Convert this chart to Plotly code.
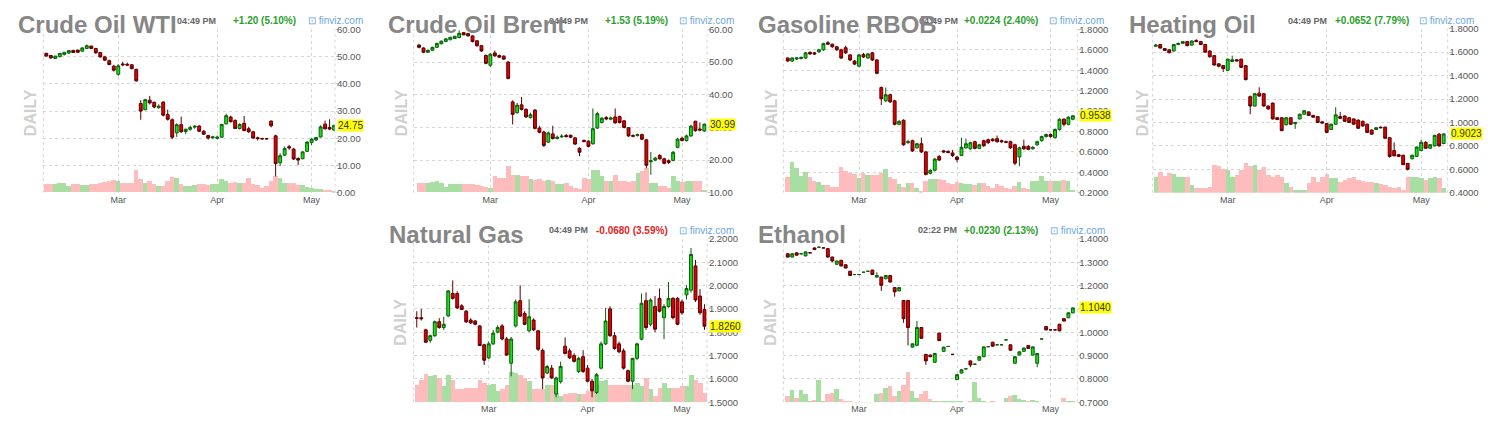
import plotly.graph_objects as go
import pandas as pd

W, H = 1488, 427
FONT = "Liberation Sans, Arial, sans-serif"

# ---------------- trading days (x categories) ----------------
trade_dates = [d for d in pd.bdate_range("2020-02-07", "2020-05-08") if d != pd.Timestamp("2020-04-10")]
x_idx = list(range(len(trade_dates)))
month_ticks, month_labels = [], []
for i, d in enumerate(trade_dates):
    if i > 0 and d.month != trade_dates[i - 1].month:
        month_ticks.append(i)
        month_labels.append(d.strftime("%b"))

# ---------------- Crude Oil WTI ----------------
wti_open = [51.2,50.4,49.3,50.0,50.8,51.3,52.3,52.4,52.0,53.0, 53.9,53.0,51.5,49.9,48.5,46.5,43.5,47.3,47.2,47.0,
            45.3,32.8,30.5,34.0,33.2,31.3,33.3,28.7,26.8,22.0, 25.0,22.5,23.3,24.1,24.5,22.6,21.0,20.2,20.0,20.4,
            25.3,27.8,26.5,23.6,25.5,23.5,22.4,20.2,19.9,19.9, 26.3,20.9,11.0,13.8,16.9,16.0,12.6,12.5,15.2,18.5,
            19.4,20.5,25.2,24.0,23.0]
wti_high = [51.4,50.6,50.2,51.3,51.6,52.2,52.4,52.5,53.4,54.5, 53.9,53.2,51.7,50.3,48.9,47.0,47.2,48.1,47.8,47.3,
            45.6,34.0,34.5,35.6,33.5,32.5,33.6,30.5,27.3,25.5, 28.0,23.6,24.6,24.9,24.8,23.0,21.3,20.9,21.0,25.3,
            29.0,28.3,27.0,25.5,28.2,24.2,22.6,20.6,20.2,20.1, 26.6,21.3,14.5,17.0,17.6,16.5,13.0,15.3,19.0,20.0,
            20.5,24.8,26.5,27.0,25.0]
wti_low = [50.0,49.3,49.3,49.7,50.4,51.0,51.4,51.5,51.8,53.0, 52.9,51.0,49.6,48.5,46.8,44.5,43.0,46.5,46.6,45.3,
           40.8,26.8,30.3,32.4,31.0,30.8,28.0,26.5,19.7,20.5, 22.0,21.5,22.8,23.5,22.3,21.2,19.5,19.8,19.6,20.2,
           25.1,25.8,23.4,23.2,22.7,22.0,19.8,19.2,19.5,19.6, 24.0,6.0,9.8,13.5,15.8,12.0,10.2,12.3,15.0,17.5,
           19.0,20.3,23.2,23.0,22.6]
wti_close = [50.2,49.5,50.2,51.2,51.6,52.2,51.5,51.6,53.2,54.0, 53.0,51.4,49.9,48.7,47.1,45.0,46.6,47.0,46.9,45.6,
             41.1,30.0,34.2,33.0,31.5,31.8,28.5,27.0,20.4,25.0, 22.4,23.3,24.0,24.4,22.6,21.5,20.1,20.5,20.4,25.1,
             28.3,26.1,23.6,25.1,22.8,22.4,20.1,19.9,19.8,19.8, 24.6,10.7,13.6,16.2,16.5,12.4,12.0,15.0,18.6,19.7,
             20.3,24.2,23.5,23.4,24.75]
wti_vol = [27,27,27,30,30,20,25,27,22,22, 25,25,28,32,35,38,35,30,30,28, 70,40,30,35,25,20,20,35,47,45,
           25,20,20,22,25,25,22,25,25,40, 35,30,32,30,30,45,25,22,15,20, 35,50,45,30,28,30,22,22,18,15,
           10,10,8,8,3]
wti_ticks = [0, 10, 20, 30, 40, 50, 60]

# ---------------- Crude Oil Brent ----------------
brent_open = [55.2,54.3,53.0,53.6,54.5,55.6,56.3,56.8,57.2,57.5, 59.0,58.7,58.0,56.5,55.0,52.0,49.0,52.8,52.0,51.8,
              50.0,37.8,34.5,36.9,35.5,33.0,35.3,29.8,28.6,25.5, 28.0,26.6,27.1,27.5,27.6,26.8,23.6,26.0,25.8,25.0,
              29.8,31.5,33.0,32.5,33.2,33.3,32.0,29.9,27.5,27.5, 27.8,26.2,19.5,20.0,21.4,20.4,19.8,19.9,23.9,26.7,
              26.0,27.4,31.9,29.5,28.9]
brent_high = [55.5,54.5,53.8,54.7,55.9,56.6,57.2,57.6,57.9,59.7, 59.2,58.9,58.2,56.7,55.2,52.3,52.8,53.5,52.3,52.1,
              50.3,38.3,37.5,39.3,35.9,34.5,35.6,30.5,29.0,28.8, 30.5,27.5,27.9,28.0,27.8,27.0,23.9,26.3,26.0,35.8,
              34.8,33.2,33.5,33.3,35.8,33.6,32.3,30.1,27.9,28.1, 28.1,26.5,22.5,21.0,21.8,20.7,20.2,22.8,26.8,27.2,
              27.8,30.8,32.0,31.5,31.2]
brent_low = [54.2,52.7,52.8,53.4,54.3,55.4,56.2,56.8,57.1,57.3, 58.3,57.9,56.0,54.7,53.1,49.3,48.5,51.6,51.2,50.6,
             44.7,30.9,34.2,35.2,32.9,32.7,29.4,28.2,24.0,25.2, 26.3,26.3,26.8,26.9,26.7,24.6,21.2,25.4,23.9,24.7,
             29.5,31.2,32.2,32.2,31.1,31.2,29.7,27.1,27.0,27.2, 26.1,17.5,15.5,19.7,20.1,18.7,18.8,19.6,23.6,25.7,
             25.7,27.1,28.7,28.8,28.6]
brent_close = [54.5,53.0,53.6,54.5,55.7,56.4,57.1,57.6,57.9,58.8, 58.3,58.0,56.3,55.0,53.4,49.6,52.4,51.9,51.5,50.9,
               45.0,34.0,36.8,35.5,33.2,33.9,29.7,28.5,24.5,28.3, 26.6,27.0,27.3,27.2,27.0,24.9,22.4,25.7,24.2,29.6,
               34.2,32.8,32.6,32.9,31.4,31.5,30.0,27.4,27.3,27.8, 26.4,18.4,19.8,20.6,20.4,19.0,19.3,22.4,26.4,26.0,
               27.4,30.4,29.0,29.2,30.99]
brent_vol = [30,30,30,32,35,30,18,25,25,25, 25,25,25,22,20,18,15,50,45,45, 80,55,55,50,50,40,38,40,35,38,
             35,25,25,28,20,15,10,45,42,70, 68,50,35,35,55,35,35,33,35,60, 65,75,30,30,20,20,15,50,35,32,
             35,35,35,35,8]
brent_ticks = [10, 20, 30, 40, 50, 60]

# ---------------- Gasoline RBOB ----------------
gas_open = [1.52,1.49,1.51,1.515,1.52,1.575,1.57,1.58,1.60,1.67, 1.655,1.63,1.60,1.62,1.55,1.49,1.44,1.555,1.52,1.57,
            1.50,1.23,1.10,1.16,1.10,0.87,0.91,0.69,0.71,0.64, 0.68,0.60,0.39,0.42,0.555,0.61,0.605,0.59,0.55,0.565,
            0.64,0.63,0.70,0.635,0.71,0.72,0.725,0.73,0.71,0.70, 0.70,0.67,0.55,0.655,0.655,0.63,0.67,0.71,0.75,0.77,
            0.74,0.82,0.92,0.87,0.92]
gas_high = [1.525,1.525,1.53,1.535,1.58,1.585,1.58,1.61,1.67,1.685, 1.66,1.635,1.61,1.64,1.56,1.50,1.56,1.57,1.57,1.58,
            1.51,1.24,1.23,1.17,1.11,0.91,0.92,0.72,0.72,0.69, 0.74,0.61,0.43,0.54,0.57,0.62,0.615,0.62,0.56,0.74,
            0.73,0.70,0.71,0.68,0.72,0.73,0.735,0.76,0.72,0.71, 0.71,0.68,0.65,0.72,0.665,0.655,0.71,0.76,0.78,0.78,
            0.83,0.93,0.93,0.95,0.96]
gas_low = [1.48,1.48,1.50,1.505,1.51,1.55,1.55,1.57,1.59,1.65, 1.62,1.59,1.51,1.56,1.49,1.45,1.43,1.52,1.51,1.49,
           1.36,1.06,1.09,1.08,0.86,0.86,0.66,0.68,0.60,0.63, 0.59,0.37,0.38,0.41,0.51,0.59,0.585,0.55,0.50,0.56,
           0.63,0.62,0.625,0.63,0.65,0.68,0.70,0.69,0.69,0.685, 0.63,0.47,0.46,0.62,0.615,0.625,0.66,0.70,0.74,0.74,
           0.73,0.81,0.85,0.86,0.91]
gas_close = [1.49,1.52,1.52,1.525,1.57,1.56,1.56,1.60,1.66,1.655, 1.63,1.60,1.52,1.57,1.50,1.46,1.55,1.53,1.56,1.50,
             1.37,1.12,1.16,1.09,0.87,0.90,0.67,0.70,0.61,0.68, 0.60,0.38,0.42,0.53,0.52,0.60,0.595,0.565,0.525,0.645,
             0.68,0.69,0.635,0.67,0.66,0.69,0.71,0.70,0.70,0.695, 0.64,0.49,0.64,0.63,0.625,0.645,0.70,0.75,0.77,0.75,
             0.82,0.92,0.87,0.94,0.9538]
gas_vol = [47,93,75,50,63,47,35,33,23,23, 17,17,77,65,60,57,45,60,53,53, 53,60,73,47,40,27,17,30,30,15,
           5,35,40,42,40,37,30,27,33,30, 27,27,23,30,30,20,15,27,20,13, 10,20,33,15,10,35,35,50,35,35,
           35,35,38,35,8]
gas_ticks = [0.2, 0.4, 0.6, 0.8, 1.0, 1.2, 1.4, 1.6, 1.8]

# ---------------- Heating Oil ----------------
ho_open = [1.65,1.665,1.63,1.62,1.61,1.665,1.675,1.69,1.66,1.70, 1.69,1.665,1.61,1.57,1.50,1.485,1.445,1.52,1.535,1.54,
           1.485,1.22,1.14,1.25,1.245,1.14,1.165,1.04,1.04,0.98, 1.04,0.99,1.03,1.07,1.09,1.06,1.05,1.005,0.99,0.94,
           0.985,1.05,1.055,1.04,1.03,1.02,1.01,0.985,0.935,0.94, 0.96,0.96,0.87,0.76,0.725,0.72,0.65,0.69,0.71,0.76,
           0.83,0.78,0.80,0.90,0.82]
ho_high = [1.67,1.67,1.635,1.625,1.67,1.68,1.695,1.695,1.70,1.71, 1.695,1.67,1.615,1.575,1.505,1.49,1.545,1.57,1.54,1.545,
           1.49,1.23,1.25,1.30,1.25,1.145,1.17,1.045,1.045,1.045, 1.045,1.005,1.075,1.105,1.095,1.065,1.055,1.01,0.995,0.99,
           1.13,1.09,1.06,1.045,1.035,1.025,1.015,0.99,0.94,0.96, 0.965,0.965,0.875,0.83,0.73,0.725,0.655,0.725,0.795,0.85,
           0.84,0.815,0.895,0.91,0.905]
ho_low = [1.645,1.63,1.61,1.59,1.605,1.66,1.67,1.65,1.655,1.685, 1.66,1.595,1.555,1.485,1.47,1.43,1.44,1.515,1.52,1.465,
          1.36,1.07,1.135,1.22,1.135,1.11,1.025,1.02,0.925,0.975, 0.98,0.945,1.025,1.065,1.055,1.04,0.995,0.99,0.91,0.935,
          0.98,1.03,1.005,0.995,0.98,0.945,0.965,0.91,0.895,0.935, 0.95,0.86,0.70,0.71,0.705,0.635,0.59,0.685,0.705,0.755,
          0.775,0.775,0.795,0.795,0.815]
ho_close = [1.66,1.635,1.615,1.595,1.665,1.675,1.69,1.655,1.695,1.69, 1.665,1.60,1.56,1.49,1.48,1.46,1.54,1.535,1.525,1.47,
            1.365,1.14,1.245,1.225,1.14,1.115,1.03,1.025,0.93,1.04, 0.985,1.00,1.07,1.10,1.06,1.045,1.00,0.995,0.915,0.985,
            1.065,1.035,1.01,1.00,0.985,0.95,0.97,0.915,0.90,0.955, 0.955,0.865,0.71,0.715,0.71,0.64,0.60,0.72,0.79,0.83,
            0.78,0.81,0.89,0.80,0.9023]
ho_vol = [50,65,53,60,57,50,50,50,25,15, 17,17,20,85,83,75,70,50,55,70, 93,83,85,70,80,55,50,55,50,30,
          20,10,10,10,30,50,35,50,57,45, 45,35,40,45,48,40,37,35,35,30, 27,25,20,15,20,10,50,50,50,45,
          40,45,50,45,15]
ho_ticks = [0.4, 0.6, 0.8, 1.0, 1.2, 1.4, 1.6, 1.8]

# ---------------- Natural Gas ----------------
ng_open = [1.862,1.862,1.810,1.765,1.785,1.845,1.820,1.870,1.966,1.966, 1.913,1.890,1.852,1.848,1.827,1.746,1.690,1.750,1.800,1.827,
           1.771,1.667,1.827,1.935,1.880,1.806,1.852,1.806,1.722,1.625, 1.646,1.535,1.588,1.740,1.720,1.700,1.632,1.695,1.646,1.590,
           1.542,1.646,1.750,1.900,1.785,1.750,1.720,1.635,1.590,1.688, 1.770,1.935,1.834,1.910,1.945,1.862,1.910,1.945,1.945,1.930,
           1.960,1.980,2.084,1.955,1.897]
ng_high = [1.890,1.900,1.815,1.790,1.850,1.860,1.866,1.980,2.022,1.975, 1.920,1.895,1.860,1.852,1.830,1.750,1.760,1.810,1.830,1.835,
           1.780,1.780,1.940,2.001,1.890,1.941,1.860,1.810,1.730,1.660, 1.660,1.610,1.674,1.778,1.730,1.710,1.695,1.723,1.660,1.600,
           1.625,1.760,1.904,1.911,1.800,1.760,1.730,1.640,1.690,1.755, 1.966,1.970,1.945,1.955,1.987,1.920,2.015,1.950,1.950,1.940,
           2.001,2.161,2.110,1.985,1.920]
ng_low = [1.820,1.850,1.755,1.755,1.780,1.815,1.810,1.865,1.940,1.900, 1.895,1.840,1.835,1.830,1.740,1.660,1.685,1.745,1.795,1.765,
          1.700,1.611,1.820,1.865,1.830,1.800,1.805,1.720,1.556,1.620, 1.600,1.521,1.580,1.705,1.685,1.670,1.625,1.625,1.585,1.521,
          1.535,1.640,1.745,1.780,1.725,1.710,1.640,1.585,1.556,1.680, 1.765,1.810,1.825,1.800,1.885,1.770,1.905,1.855,1.830,1.875,
          1.940,1.970,1.930,1.875,1.810]
ng_close = [1.860,1.858,1.757,1.785,1.845,1.820,1.834,1.977,1.945,1.904, 1.897,1.844,1.840,1.834,1.743,1.680,1.750,1.796,1.820,1.771,
            1.702,1.771,1.930,1.869,1.834,1.866,1.810,1.727,1.604,1.653, 1.604,1.604,1.653,1.709,1.690,1.675,1.688,1.632,1.590,1.549,
            1.618,1.750,1.848,1.785,1.730,1.716,1.646,1.590,1.688,1.750, 1.924,1.820,1.938,1.813,1.890,1.910,1.945,1.862,1.834,1.883,
            1.987,2.133,1.938,1.883,1.826]
ng_vol = [55,70,87,80,85,75,50,85,70,40, 40,43,43,45,70,60,55,57,35,40, 55,95,90,85,75,65,40,40,40,55,
          55,30,20,25,30,30,25,27,35,35, 55,65,70,55,53,53,53,55,55,60, 50,75,40,20,45,60,45,43,45,50,
          50,83,70,60,30]
ng_ticks = [1.5, 1.6, 1.7, 1.8, 1.9, 2.0, 2.1, 2.2]

# ---------------- Ethanol ----------------
eth_open = [1.336,1.322,1.340,1.336,1.327,1.340,1.361,1.364,1.361,1.358, 1.322,1.291,1.308,1.289,1.261,1.247,1.247,1.257,1.261,1.266,
            1.236,1.236,1.229,1.243,1.191,1.177,1.136,1.136,0.936,0.944, 1.020,0.905,0.902,0.871,0.996,0.918,0.939,0.905,0.797,0.825,
            0.843,0.877,0.863,0.880,0.895,0.938,0.957,0.946,0.946,0.967, 0.946,0.867,0.902,0.918,0.943,0.902,0.867,0.971,1.024,1.010,
            1.010,1.034,1.058,1.062,1.083]
eth_high = [1.338,1.338,1.342,1.336,1.346,1.340,1.363,1.364,1.361,1.360, 1.324,1.307,1.310,1.291,1.263,1.247,1.247,1.257,1.261,1.268,
            1.257,1.238,1.245,1.245,1.193,1.193,1.138,1.138,0.952,1.048, 1.022,0.907,0.904,0.911,0.998,0.938,0.939,0.905,0.820,0.841,
            0.843,0.879,0.863,0.897,0.939,0.938,0.959,0.946,0.946,0.967, 0.948,0.897,0.918,0.934,0.945,0.939,0.911,0.971,1.026,1.010,
            1.010,1.036,1.060,1.085,1.106]
eth_low = [1.320,1.320,1.328,1.336,1.325,1.340,1.352,1.364,1.361,1.320, 1.300,1.289,1.282,1.273,1.241,1.247,1.247,1.257,1.261,1.245,
           1.234,1.177,1.227,1.213,1.152,1.175,1.040,0.943,0.934,0.940, 0.972,0.860,0.893,0.869,0.962,0.916,0.939,0.905,0.795,0.823,
           0.843,0.850,0.863,0.878,0.893,0.938,0.938,0.946,0.946,0.967, 0.921,0.865,0.900,0.916,0.928,0.900,0.850,0.971,1.008,1.010,
           1.010,1.004,1.046,1.060,1.081]
eth_close = [1.322,1.336,1.330,1.336,1.344,1.340,1.354,1.364,1.361,1.322, 1.305,1.305,1.284,1.275,1.243,1.247,1.247,1.257,1.261,1.247,
             1.243,1.201,1.243,1.215,1.173,1.191,1.058,1.020,0.950,1.020, 0.974,0.877,0.895,0.909,0.964,0.936,0.939,0.905,0.818,0.839,
             0.843,0.860,0.863,0.895,0.937,0.938,0.940,0.946,0.946,0.967, 0.923,0.895,0.916,0.932,0.930,0.937,0.909,0.971,1.010,1.010,
             1.010,1.006,1.048,1.083,1.104]
eth_vol = [20,38,15,38,25,5,8,70,3,25, 28,40,10,3,2,1,1,1,1,1, 25,30,45,50,20,35,55,95,35,15,
           25,35,10,3,3,3,2,2,3,2, 0,3,62,15,3,1,3,0,0,15, 20,22,10,8,3,8,5,0,0,0,
           0,0,15,3,3]
eth_ticks = [0.7, 0.8, 0.9, 1.0, 1.1, 1.2, 1.3, 1.4]

VOL_AXIS_MAX = 503  # volume units shown over full plot height

panels = [
    dict(title="Crude Oil WTI", time="04:49 PM", change="+1.20 (5.10%)", up=True,
         o=wti_open, h=wti_high, l=wti_low, c=wti_close, v=wti_vol, ticks=wti_ticks, fmt="{:.2f}",
         last="24.75", ox=0, oy=0, plot=(43.3, 335, 24, 191.7), xr=(-0.67, 64.2),
         title_x=16, daily_x=30, tright=218, cright=298, fright=365),
    dict(title="Crude Oil Brent", time="04:49 PM", change="+1.53 (5.19%)", up=True,
         o=brent_open, h=brent_high, l=brent_low, c=brent_close, v=brent_vol, ticks=brent_ticks, fmt="{:.2f}",
         last="30.99", ox=372, oy=0, plot=(41.7, 335, 24, 191.7), xr=(-1.2, 64.6),
         title_x=14, daily_x=29, tright=218, cright=298, fright=364),
    dict(title="Gasoline RBOB", time="04:49 PM", change="+0.0224 (2.40%)", up=True,
         o=gas_open, h=gas_high, l=gas_low, c=gas_close, v=gas_vol, ticks=gas_ticks, fmt="{:.4f}",
         last="0.9538", ox=744, oy=0, plot=(39.3, 333.3, 24, 191.7), xr=(-1.0, 65.0),
         title_x=12, daily_x=27, tright=216, cright=296, fright=362),
    dict(title="Heating Oil", time="04:49 PM", change="+0.0652 (7.79%)", up=True,
         o=ho_open, h=ho_high, l=ho_low, c=ho_close, v=ho_vol, ticks=ho_ticks, fmt="{:.4f}",
         last="0.9023", ox=1116, oy=0, plot=(36.7, 331.7, 23.3, 191.7), xr=(-0.68, 64.9),
         title_x=11, daily_x=26, tright=213, cright=295, fright=360),
    dict(title="Natural Gas", time="04:49 PM", change="-0.0680 (3.59%)", up=False,
         o=ng_open, h=ng_high, l=ng_low, c=ng_close, v=ng_vol, ticks=ng_ticks, fmt="{:.4f}",
         last="1.8260", ox=372, oy=215, plot=(41.7, 335, 24, 191.7), xr=(-0.68, 64.56),
         title_x=15, daily_x=29, tright=218, cright=298, fright=364),
    dict(title="Ethanol", time="02:22 PM", change="+0.0230 (2.13%)", up=True,
         o=eth_open, h=eth_high, l=eth_low, c=eth_close, v=eth_vol, ticks=eth_ticks, fmt="{:.4f}",
         last="1.1040", ox=744, oy=215, plot=(39.3, 333.3, 24, 191.7), xr=(-1.0, 65.0),
         title_x=12, daily_x=27, tright=215, cright=296, fright=363),
]

def pxx(p):
    return p / W

def pxy(p):
    return 1 - p / H

fig = go.Figure()
annotations = []
shapes = []
layout_axes = {}

for k, p in enumerate(panels):
    xid = "x" if k == 0 else f"x{k + 1}"
    vid = "y" if k == 0 else f"y{2 * k + 1}"
    pid = f"y{2 * k + 2}"
    xkey = "xaxis" if k == 0 else f"xaxis{k + 1}"
    vkey = "yaxis" if k == 0 else f"yaxis{2 * k + 1}"
    pkey = f"yaxis{2 * k + 2}"
    x0, x1, y0, y1 = p["plot"]
    ox, oy = p["ox"], p["oy"]

    vcolors = ["#a9dea2" if (c is not None and c >= o) else "#ffbcbc" for o, c in zip(p["o"], p["c"])]
    fig.add_trace(go.Bar(x=x_idx, y=p["v"], marker=dict(color=vcolors, line=dict(width=0)),
                         width=1.0, xaxis=xid, yaxis=vid, hoverinfo="skip", showlegend=False))
    fig.add_trace(go.Candlestick(
        x=x_idx, open=p["o"], high=p["h"], low=p["l"], close=p["c"],
        increasing=dict(line=dict(color="#0b5e0b", width=1), fillcolor="#16e016"),
        decreasing=dict(line=dict(color="#5a0000", width=1), fillcolor="#e00000"),
        whiskerwidth=0, xaxis=xid, yaxis=pid, hoverinfo="skip", showlegend=False))

    layout_axes[xkey] = dict(
        domain=[pxx(ox + x0), pxx(ox + x1)], anchor=vid, range=list(p["xr"]),
        tickvals=month_ticks, ticktext=month_labels, showgrid=True, gridcolor="#d6d6d6",
        griddash="3px,3px", gridwidth=1, zeroline=False, showline=False, ticks="",
        tickfont=dict(size=9, color="#555", family=FONT), rangeslider=dict(visible=False),
        fixedrange=True)
    layout_axes[vkey] = dict(
        domain=[pxy(oy + y1), pxy(oy + y0)], anchor=xid, range=[0, VOL_AXIS_MAX],
        visible=False, showgrid=False, zeroline=False, fixedrange=True)
    t = p["ticks"]
    layout_axes[pkey] = dict(
        overlaying=vid, anchor=xid, side="right", range=[t[0], t[-1]],
        tickvals=t, ticktext=[p["fmt"].format(v) for v in t],
        showgrid=True, gridcolor="#d6d6d6", griddash="3px,3px", gridwidth=1,
        zeroline=False, showline=False, ticks="outside", ticklen=3, tickcolor="#c8c8c8",
        ticklabelstandoff=-4,
        tickfont=dict(size=9.5, color="#555", family=FONT), fixedrange=True)

    # dashed left / right borders
    for xb in (0, 1):
        shapes.append(dict(type="line", xref=f"{xid} domain", yref=f"{vid} domain",
                           x0=xb, x1=xb, y0=0, y1=1, line=dict(color="#d6d6d6", width=1, dash="3px,3px")))

    # last-price yellow tag
    annotations.append(dict(xref=f"{xid} domain", yref=pid, x=1, y=p["c"][-1], xanchor="left",
                            yanchor="middle", xshift=2, text=p["last"], showarrow=False,
                            bgcolor="#ffff00", borderpad=0,
                            font=dict(size=10, color="#333", family=FONT)))

    # DAILY vertical label
    annotations.append(dict(xref="paper", yref="paper", x=pxx(ox + p["daily_x"]), y=pxy(oy + 110),
                            xanchor="center", yanchor="middle", textangle=-90, text="<b>DAILY</b>",
                            showarrow=False, font=dict(size=16, color="#d0d0d0", family=FONT)))

    # header: time, change, finviz
    hy = pxy(oy + 15)
    annotations.append(dict(xref="paper", yref="paper", x=pxx(ox + p["tright"]), y=hy,
                            xanchor="right", yanchor="middle", text="<b>" + p["time"] + "</b>",
                            showarrow=False, font=dict(size=9, color="#666", family=FONT)))
    annotations.append(dict(xref="paper", yref="paper", x=pxx(ox + p["cright"]), y=hy,
                            xanchor="right", yanchor="middle", text="<b>" + p["change"] + "</b>",
                            showarrow=False,
                            font=dict(size=10, color="#2ca02c" if p["up"] else "#e02424", family=FONT)))
    annotations.append(dict(xref="paper", yref="paper", x=pxx(ox + p["fright"]), y=hy,
                            xanchor="right", yanchor="middle", text="⊡ finviz.com",
                            showarrow=False, font=dict(size=10, color="#6aa7df", family=FONT)))

# titles drawn last (on top of header text)
for p in panels:
    annotations.append(dict(xref="paper", yref="paper", x=pxx(p["ox"] + p["title_x"]),
                            y=pxy(p["oy"] + 19.3), xanchor="left", yanchor="middle",
                            text="<b>" + p["title"] + "</b>", showarrow=False,
                            font=dict(size=24, color="#868686", family=FONT)))

fig.update_layout(
    width=W, height=H, margin=dict(l=0, r=0, t=0, b=0),
    paper_bgcolor="white", plot_bgcolor="white",
    showlegend=False, bargap=0, boxgap=0.08,
    annotations=annotations, shapes=shapes,
    font=dict(family=FONT),
    **layout_axes,
)

fig.write_html("out.html", config={"displayModeBar": False},
               post_script="document.body.style.margin='0px';")
